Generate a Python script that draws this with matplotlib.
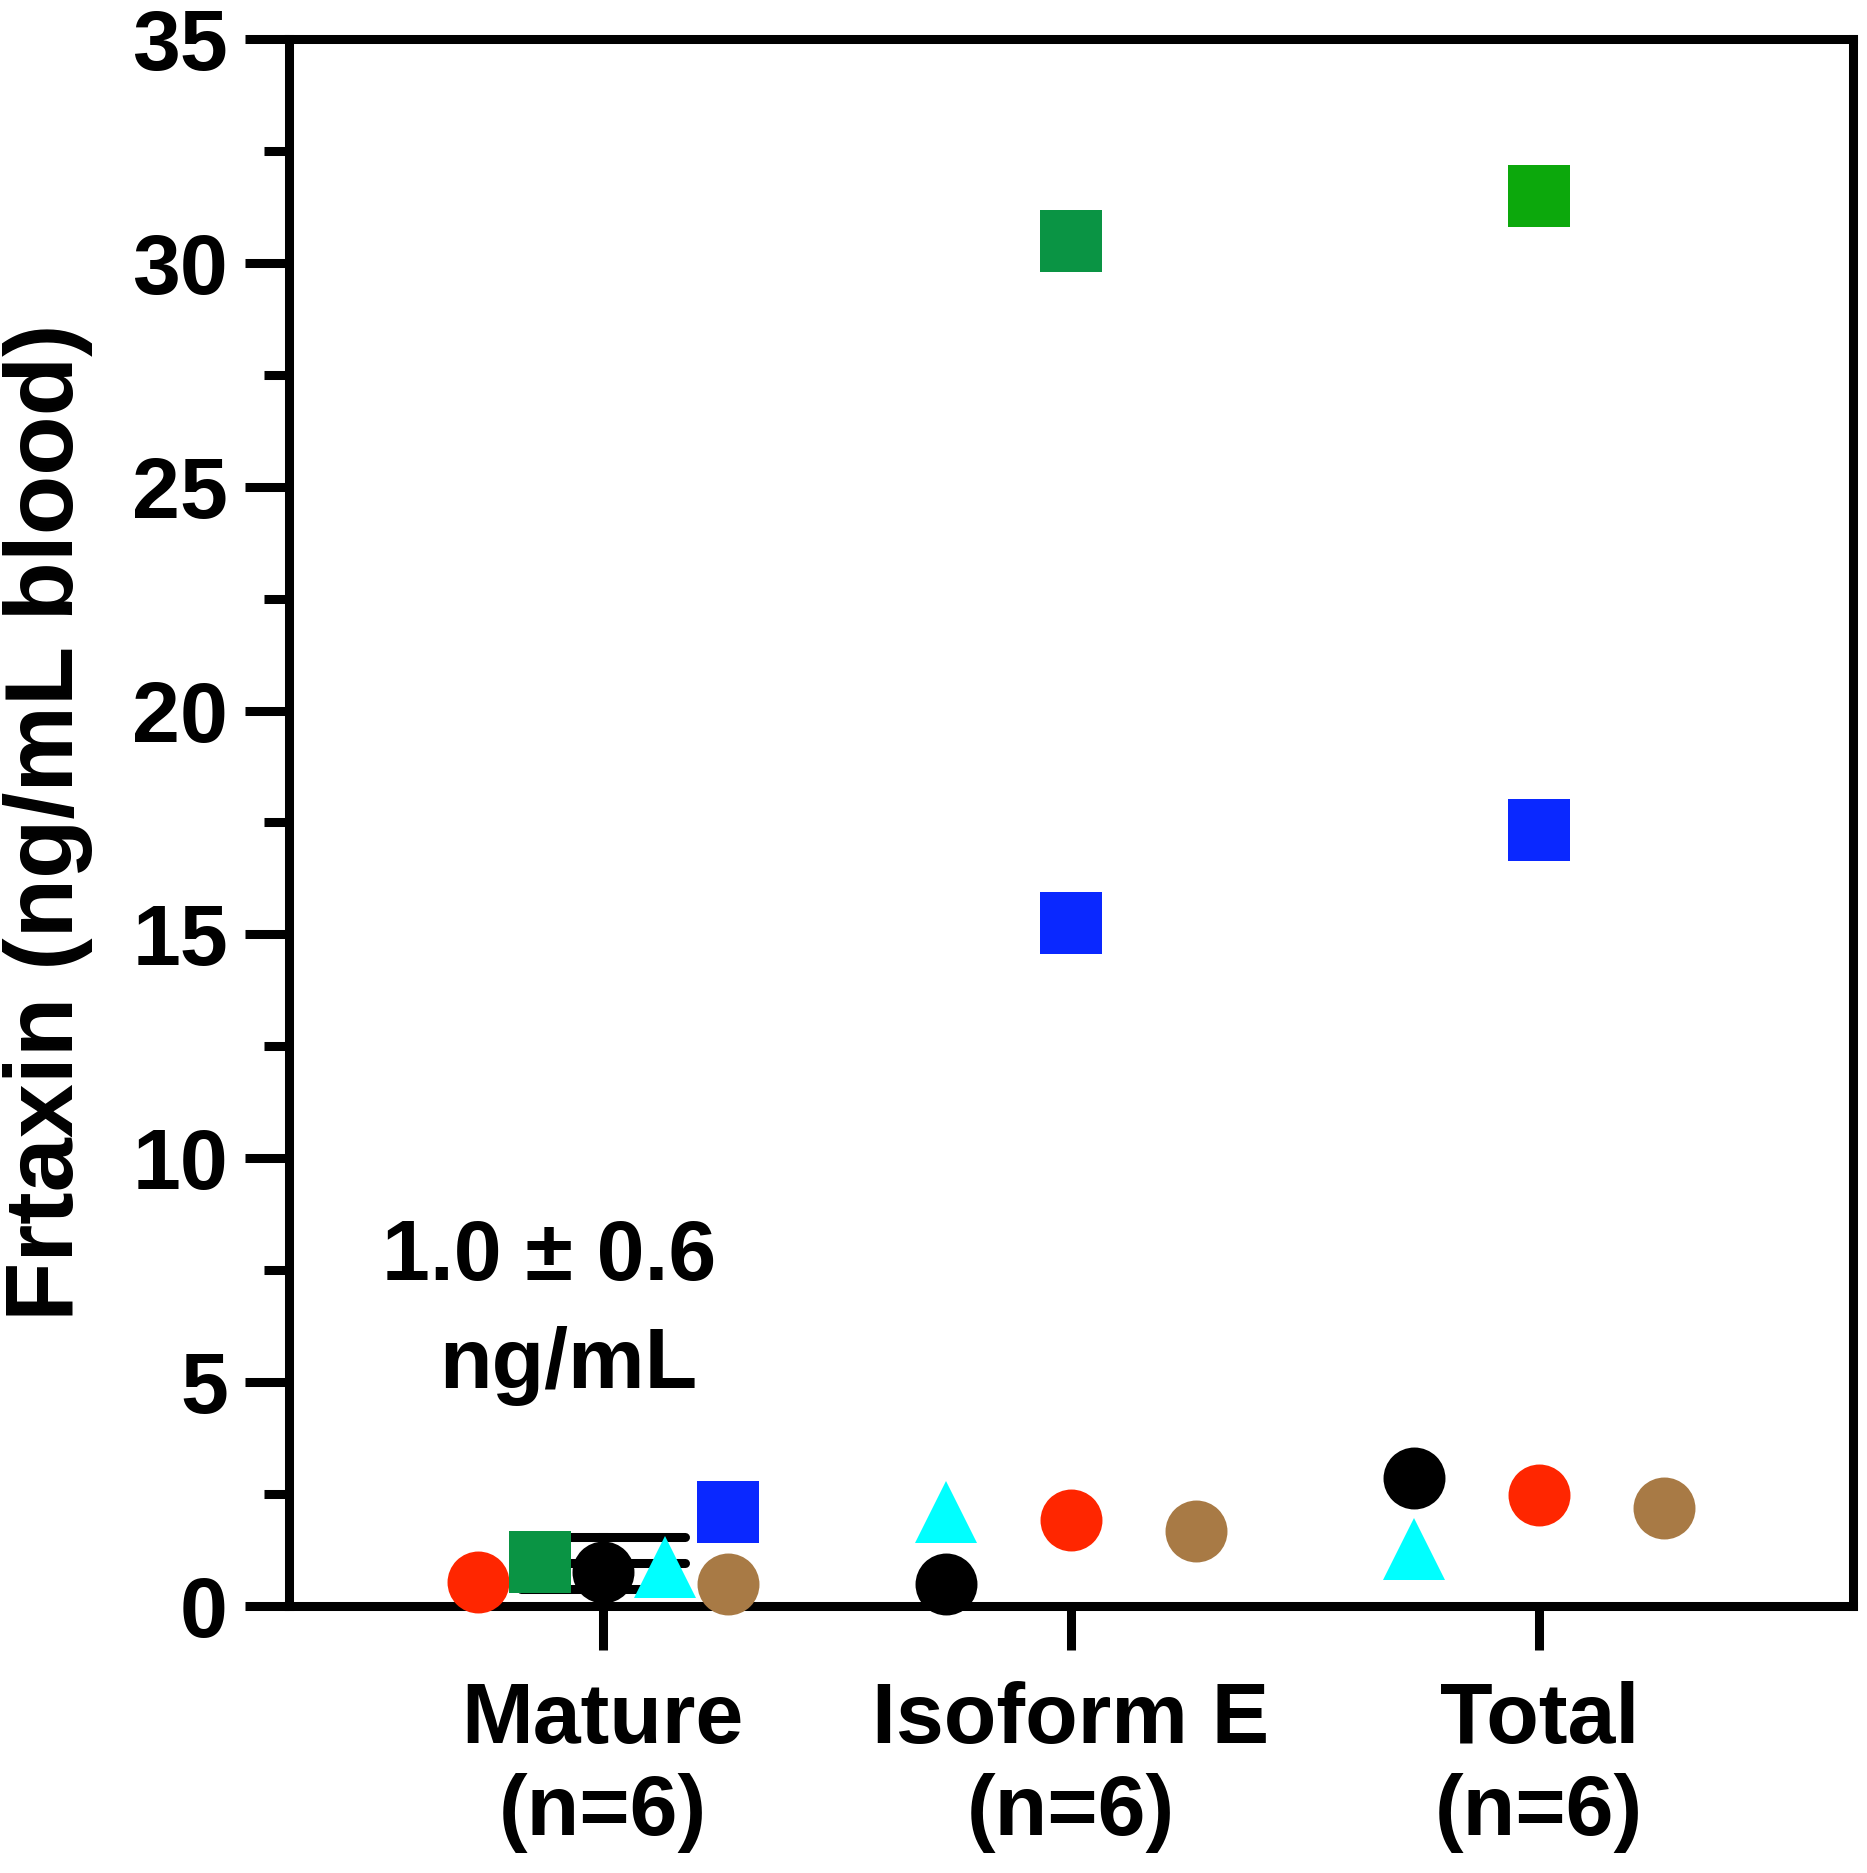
import numpy as np
import matplotlib
matplotlib.use("Agg")
import matplotlib.pyplot as plt

# ---- data ----
groups = ["Mature\n(n=6)", "Isoform E\n(n=6)", "Total\n(n=6)"]
subjects = ["S1", "S2", "S3", "S4", "S5", "S6"]
# values per subject: [Mature, Isoform E, Total]
s1_red = [0.54, 1.93, 2.48]
s2_green = [0.99, 30.48, 31.5]
s3_black = [0.76, 0.48, 2.86]
s4_cyan = [0.87, 2.10, 1.26]
s5_brown = [0.49, 1.67, 2.19]
s6_blue = [2.10, 15.25, 17.34]
annotation_lines = ["1.0 \u00b1 0.6", "ng/mL"]
yticks = [0, 5, 10, 15, 20, 25, 30, 35]

# ---- styles / layout ----
series = [
    (s1_red, "o", ["#FF2600"] * 3, [-0.267, 0.0, 0.0]),
    (s2_green, "s", ["#0A9444", "#0A9444", "#0CA80C"], [-0.134, 0.0, 0.0]),
    (s3_black, "o", ["#000000"] * 3, [0.0, -0.268, -0.268]),
    (s4_cyan, "^", ["#00FFFF"] * 3, [0.134, -0.268, -0.268]),
    (s5_brown, "o", ["#A87A45"] * 3, [0.268, 0.266, 0.267]),
    (s6_blue, "s", ["#0A28FF"] * 3, [0.268, 0.0, 0.0]),
]

plt.rcParams["font.family"] = ["Liberation Sans", "DejaVu Sans"]
plt.rcParams["font.weight"] = "bold"

fig = plt.figure(figsize=(18.67, 18.73), dpi=100)
ax = fig.add_axes([0.1548, 0.1426, 0.8377, 0.8366])

x = np.arange(len(groups))
ms = 44.6
for vals, mk, cols, offs in series:
    for i in range(len(groups)):
        ax.plot(x[i] + offs[i], vals[i], marker=mk, color=cols[i], markersize=ms,
                markeredgewidth=0, linestyle="none", zorder=3, clip_on=False)

# mean +/- SD for Mature group
mature_vals = np.array([s[0][0] for s in series])
m = mature_vals.mean()
sd = mature_vals.std(ddof=1)
hw = 0.175
lw = 6.5
for yv in (m - sd, m, m + sd):
    ax.plot([x[0] - hw, x[0] + hw], [yv, yv], color="black", lw=lw,
            solid_capstyle="round", zorder=2)
ax.plot([x[0], x[0]], [m - sd, m + sd], color="black", lw=lw, zorder=2)

ax.text(-0.115, 7.28, annotation_lines[0], ha="center", va="baseline",
        fontsize=62, fontweight="bold")
ax.text(-0.073, 4.87, annotation_lines[1], ha="center", va="baseline",
        fontsize=62, fontweight="bold")

ax.set_xlim(-0.67, 2.67)
ax.set_ylim(0, 35)
ax.set_xticks(x)
ax.set_xticklabels(groups, fontsize=62, fontweight="bold")
ax.set_yticks(yticks)
ax.set_yticklabels([str(t) for t in yticks], fontsize=62, fontweight="bold")
ax.set_yticks(np.arange(2.5, 35, 5), minor=True)

for sp in ax.spines.values():
    sp.set_linewidth(lw)
ax.tick_params(axis="both", which="major", direction="out", width=lw, length=32,
               pad=12)
ax.tick_params(axis="y", which="minor", direction="out", width=lw, length=18)
ax.tick_params(axis="x", which="major", pad=22)

ax.set_ylabel("Frtaxin (ng/mL blood)", fontsize=70, fontweight="bold", labelpad=28)

fig.savefig("out.png", dpi=100, facecolor="white")
